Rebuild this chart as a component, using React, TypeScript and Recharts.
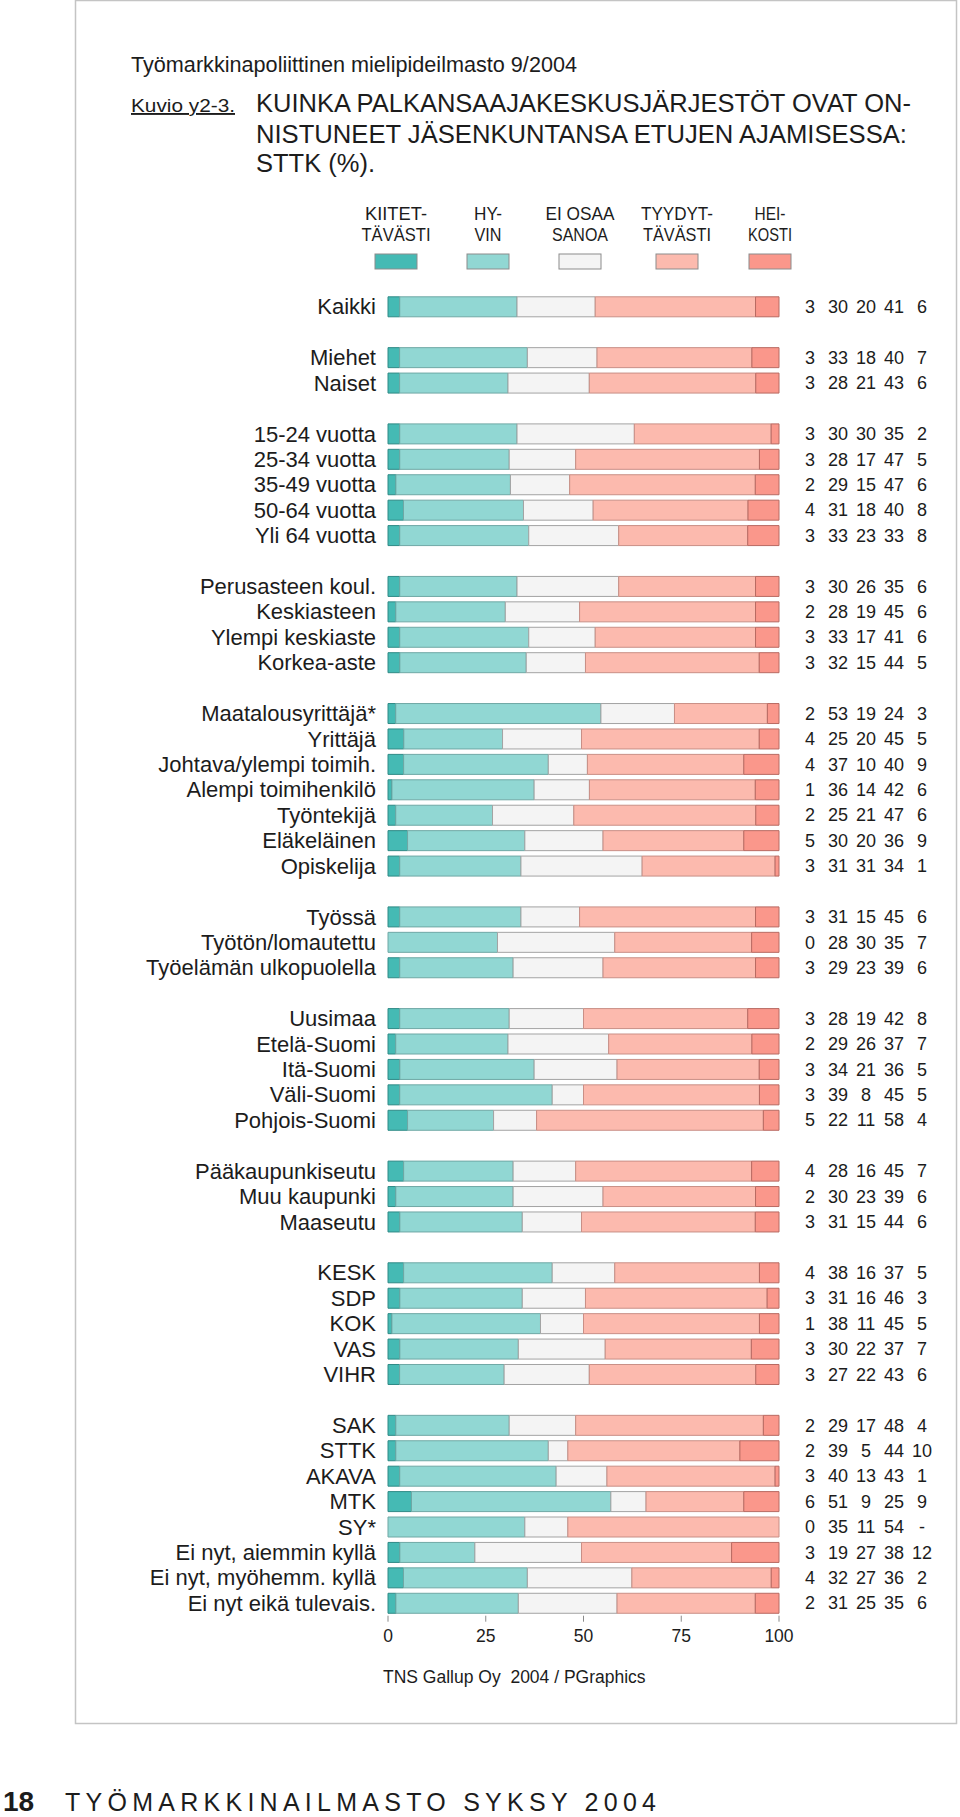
import React from 'react';
import { BarChart, Bar, XAxis, YAxis } from 'recharts';

const FONT = '"Liberation Sans", Arial, Helvetica, sans-serif';
const INK = '#1c1c1c';

// Row labels ('' = spacer row between groups)
const categories = [
  'Kaikki', '',
  'Miehet', 'Naiset', '',
  '15-24 vuotta', '25-34 vuotta', '35-49 vuotta', '50-64 vuotta', 'Yli 64 vuotta', '',
  'Perusasteen koul.', 'Keskiasteen', 'Ylempi keskiaste', 'Korkea-aste', '',
  'Maatalousyrittäjä*', 'Yrittäjä', 'Johtava/ylempi toimih.', 'Alempi toimihenkilö', 'Työntekijä', 'Eläkeläinen', 'Opiskelija', '',
  'Työssä', 'Työtön/lomautettu', 'Työelämän ulkopuolella', '',
  'Uusimaa', 'Etelä-Suomi', 'Itä-Suomi', 'Väli-Suomi', 'Pohjois-Suomi', '',
  'Pääkaupunkiseutu', 'Muu kaupunki', 'Maaseutu', '',
  'KESK', 'SDP', 'KOK', 'VAS', 'VIHR', '',
  'SAK', 'STTK', 'AKAVA', 'MTK', 'SY*', 'Ei nyt, aiemmin kyllä', 'Ei nyt, myöhemm. kyllä', 'Ei nyt eikä tulevais.',
];

// Series values (%), null = spacer row or no answer ("-")
const kiitettavasti = [3, null, 3, 3, null, 3, 3, 2, 4, 3, null, 3, 2, 3, 3, null, 2, 4, 4, 1, 2, 5, 3, null, 3, 0, 3, null, 3, 2, 3, 3, 5, null, 4, 2, 3, null, 4, 3, 1, 3, 3, null, 2, 2, 3, 6, 0, 3, 4, 2];
const hyvin = [30, null, 33, 28, null, 30, 28, 29, 31, 33, null, 30, 28, 33, 32, null, 53, 25, 37, 36, 25, 30, 31, null, 31, 28, 29, null, 28, 29, 34, 39, 22, null, 28, 30, 31, null, 38, 31, 38, 30, 27, null, 29, 39, 40, 51, 35, 19, 32, 31];
const eiOsaaSanoa = [20, null, 18, 21, null, 30, 17, 15, 18, 23, null, 26, 19, 17, 15, null, 19, 20, 10, 14, 21, 20, 31, null, 15, 30, 23, null, 19, 26, 21, 8, 11, null, 16, 23, 15, null, 16, 16, 11, 22, 22, null, 17, 5, 13, 9, 11, 27, 27, 25];
const tyydyttavasti = [41, null, 40, 43, null, 35, 47, 47, 40, 33, null, 35, 45, 41, 44, null, 24, 45, 40, 42, 47, 36, 34, null, 45, 35, 39, null, 42, 37, 36, 45, 58, null, 45, 39, 44, null, 37, 46, 45, 37, 43, null, 48, 44, 43, 25, 54, 38, 36, 35];
const heikosti = [6, null, 7, 6, null, 2, 5, 6, 8, 8, null, 6, 6, 6, 5, null, 3, 5, 9, 6, 6, 9, 1, null, 6, 7, 6, null, 8, 7, 5, 5, 4, null, 7, 6, 6, null, 5, 3, 5, 7, 6, null, 4, 10, 1, 9, null, 12, 2, 6];

const xTicks = [0, 0.25, 0.5, 0.75, 1];

const seriesKeys = ['k', 'h', 'e', 't', 'w'];
const seriesNames = [
  ['KIITET-', 'TÄVÄSTI'],
  ['HY-', 'VIN'],
  ['EI OSAA', 'SANOA'],
  ['TYYDYT-', 'TÄVÄSTI'],
  ['HEI-', 'KOSTI'],
];
const legendWidths = [
  [62, 69],
  [28, 27],
  [69, 56],
  [72, 68],
  [31, 44],
];
const fills = ['#45bab4', '#91d7d3', '#f4f4f4', '#fcbaae', '#fa978b'];
const strokes = ['#2f8a86', '#6fa8a5', '#a3a3a3', '#c98f86', '#b86a62'];

const data = categories.map((label, i) => ({
  key: label === '' ? `gap-${i}` : label,
  label,
  k: kiitettavasti[i],
  h: hyvin[i],
  e: eiOsaaSanoa[i],
  t: tyydyttavasti[i],
  w: heikosti[i],
}));
const rowByKey = new Map(data.map((d) => [d.key, d]));

const LeftTick = (props: any) => {
  const { x, y, payload } = props;
  const row = rowByKey.get(payload.value);
  if (!row || !row.label) return <g />;
  return (
    <text x={x} y={y} dy="0.36em" textAnchor="end" fontSize={22} fill={INK} fontFamily={FONT}>
      {row.label}
    </text>
  );
};

const RightTick = (props: any) => {
  const { x, y, payload } = props;
  const row: any = rowByKey.get(payload.value);
  if (!row || !row.label) return <g />;
  return (
    <g>
      {seriesKeys.map((sk, i) => (
        <text key={sk} x={x + 31 + 28 * i} y={y} dy="0.36em" textAnchor="middle" fontSize={18} fill={INK} fontFamily={FONT}>
          {row[sk] == null ? '-' : row[sk]}
        </text>
      ))}
    </g>
  );
};

const legendX = [375, 467, 559, 656, 749];

export default function App() {
  return (
    <div style={{ position: 'absolute', left: 0, top: 0, width: 960, height: 1817, background: '#fff', fontFamily: FONT }}>
      <svg width={960} height={1817} style={{ position: 'absolute', left: 0, top: 0 }}>
        <rect x={75.5} y={0.5} width={881} height={1723} fill="#fff" stroke="#c4c4c4" strokeWidth={1.5} />
        <text x={131} y={72} fontSize={22} fill={INK} fontFamily={FONT} textLength={446} lengthAdjust="spacingAndGlyphs">
          Työmarkkinapoliittinen mielipideilmasto 9/2004
        </text>
        <text x={131} y={112} fontSize={19} fill={INK} fontFamily={FONT} textLength={104} lengthAdjust="spacingAndGlyphs" textDecoration="underline">
          Kuvio y2-3.
        </text>
        <text x={256} y={112} fontSize={25.5} fill={INK} fontFamily={FONT} textLength={655} lengthAdjust="spacingAndGlyphs">
          KUINKA PALKANSAAJAKESKUSJÄRJESTÖT OVAT ON-
        </text>
        <text x={256} y={143} fontSize={25.5} fill={INK} fontFamily={FONT} textLength={651} lengthAdjust="spacingAndGlyphs">
          NISTUNEET JÄSENKUNTANSA ETUJEN AJAMISESSA:
        </text>
        <text x={256} y={172} fontSize={25.5} fill={INK} fontFamily={FONT}>
          STTK (%).
        </text>
        {seriesNames.map((lines, i) => (
          <g key={i}>
            <text x={legendX[i] + 21} y={220} fontSize={18} textAnchor="middle" fill={INK} fontFamily={FONT} textLength={legendWidths[i][0]} lengthAdjust="spacingAndGlyphs">{lines[0]}</text>
            <text x={legendX[i] + 21} y={241} fontSize={18} textAnchor="middle" fill={INK} fontFamily={FONT} textLength={legendWidths[i][1]} lengthAdjust="spacingAndGlyphs">{lines[1]}</text>
            <rect x={legendX[i]} y={254} width={42} height={15} fill={fills[i]} stroke="#8c8c8c" strokeWidth={1} />
          </g>
        ))}
        <text x={383} y={1683} fontSize={17.5} fill={INK} fontFamily={FONT} style={{ whiteSpace: 'pre' }}>
          {'TNS Gallup Oy  2004 / PGraphics'}
        </text>
        <text x={3} y={1811} fontSize={28} fontWeight="bold" fill={INK} fontFamily={FONT}>18</text>
        <text x={65} y={1811} fontSize={25} fill={INK} fontFamily={FONT} textLength={591} lengthAdjust="spacing">
          TYÖMARKKINAILMASTO SYKSY 2004
        </text>
      </svg>
      <div style={{ position: 'absolute', left: 0, top: 0 }}>
        <BarChart
          width={960}
          height={1817}
          data={data}
          layout="vertical"
          stackOffset="expand"
          margin={{ top: 293.8, right: 0, bottom: 161.3, left: 188 }}
        >
          <XAxis
            type="number"
            domain={[0, 1]}
            ticks={xTicks}
            tickFormatter={(v: number) => String(Math.round(v * 100))}
            axisLine={false}
            tickLine={{ stroke: '#8a8a8a' }}
            tickSize={6}
            tickMargin={8}
            height={40}
            tick={{ fontSize: 17.5, fill: INK, fontFamily: FONT }}
          />
          <YAxis
            yAxisId="left"
            type="category"
            dataKey="key"
            width={200}
            axisLine={false}
            tickLine={false}
            tickSize={6}
            tickMargin={6}
            interval={0}
            tick={<LeftTick />}
          />
          <YAxis
            yAxisId="right"
            orientation="right"
            type="category"
            dataKey="key"
            width={181}
            axisLine={false}
            tickLine={false}
            tickSize={0}
            tickMargin={0}
            interval={0}
            tick={<RightTick />}
          />
          {seriesKeys.map((sk, i) => (
            <Bar
              key={sk}
              dataKey={sk}
              yAxisId="left"
              stackId="a"
              barSize={20}
              fill={fills[i]}
              stroke={strokes[i]}
              strokeWidth={1}
              isAnimationActive={false}
            />
          ))}
        </BarChart>
      </div>
    </div>
  );
}
